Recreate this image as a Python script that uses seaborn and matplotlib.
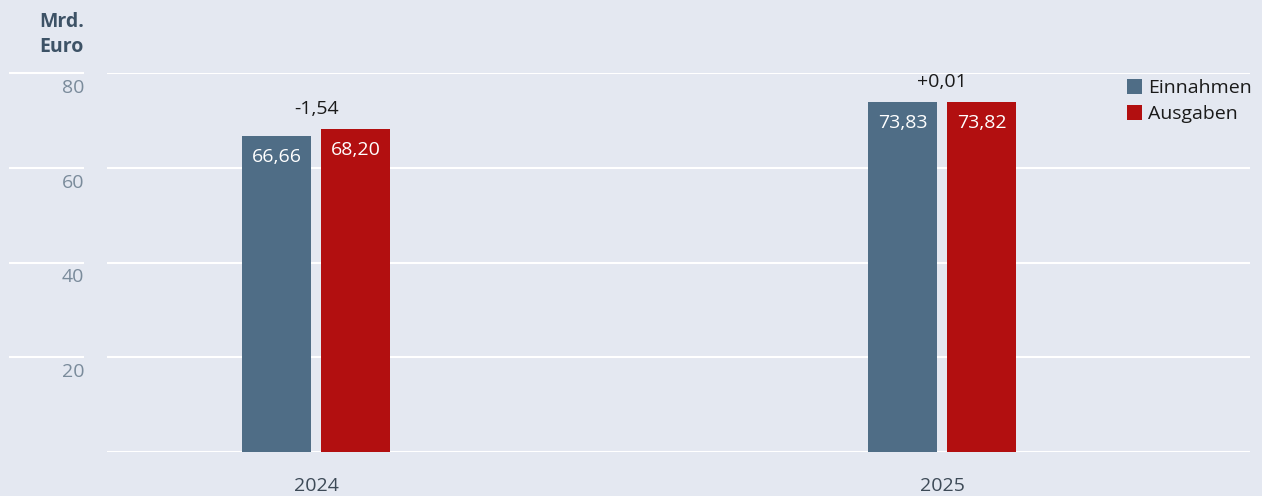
import seaborn as sns
import matplotlib.pyplot as plt
import matplotlib.transforms as mtransforms
import pandas as pd

jahre = ['2024', '2025']
einnahmen = [66.66, 73.83]
ausgaben = [68.20, 73.82]
saldo_text = ['-1,54', '+0,01']
y_ticks = [20, 40, 60, 80]

bg = '#e4e8f1'
farben = {'Einnahmen': '#4f6d86', 'Ausgaben': '#b20f10'}

df = pd.DataFrame({
    'Jahr': jahre * 2,
    'Wert': einnahmen + ausgaben,
    'Art': ['Einnahmen'] * len(jahre) + ['Ausgaben'] * len(jahre),
})

sns.set_style('white')
plt.rcParams['font.family'] = ['Open Sans', 'DejaVu Sans']

W, H = 1262, 496
fig = plt.figure(figsize=(W / 100, H / 100), dpi=100, facecolor=bg)
ax = fig.add_axes([107 / W, 44 / H, 1143 / W, (452 - 73) / H])
ax.set_facecolor(bg)

sns.barplot(data=df, x='Jahr', y='Wert', hue='Art', palette=farben,
            width=0.2524, gap=0.127, saturation=1, linewidth=0,
            ax=ax, legend=True)

ax.set_xlim(-0.334, 1.492)
ax.set_ylim(0, 80)

# Werte in die Balken schreiben
for cont in ax.containers:
    for bar in cont:
        h = bar.get_height()
        ax.annotate(f'{h:.2f}'.replace('.', ','),
                    (bar.get_x() + bar.get_width() / 2, h),
                    xytext=(0, -21), textcoords='offset pixels',
                    ha='center', va='center', color='white', fontsize=14)

# Saldo über den Balken
for i, txt in enumerate(saldo_text):
    top = max(einnahmen[i], ausgaben[i])
    ax.annotate(txt, (i, top), xytext=(0, 20), textcoords='offset pixels',
                ha='center', va='center', color='#1a1a1a', fontsize=14,
                annotation_clip=False)

# Gitter
ax.set_yticks([0] + y_ticks)
ax.yaxis.grid(True, color='white', linewidth=1.5)
ax.set_axisbelow(True)
ax.tick_params(axis='y', length=0, pad=16.5, labelsize=14, labelcolor='#7a8b9b')
ax.tick_params(axis='x', length=0, pad=18, labelsize=14, labelcolor='#3d4a57')
ax.set_yticklabels([''] + [str(t) for t in y_ticks])
off = mtransforms.ScaledTranslation(0, -13 / 100, fig.dpi_scale_trans)
for lab in ax.get_yticklabels():
    lab.set_transform(lab.get_transform() + off)

# kurze Linien links neben den Achsenbeschriftungen
trans = mtransforms.blended_transform_factory(fig.transFigure, ax.transData)
ax.hlines(y_ticks, 9 / W, 84 / W, transform=trans, color='white',
          linewidth=1.5, clip_on=False)

sns.despine(ax=ax, left=True, bottom=True, top=True, right=True)
ax.set_xlabel('')
ax.set_ylabel('')

fig.text(84 / W, 1 - 12 / H, 'Mrd.\nEuro', ha='right', va='top',
         fontsize=14, fontweight='bold', color='#3d5266', linespacing=1.3)

leg = ax.legend(loc='upper left', bbox_to_anchor=(1119 / W, 1 - 71 / H),
                bbox_transform=fig.transFigure, frameon=False, fontsize=14,
                handlelength=0.8, handleheight=0.8, handletextpad=0.3,
                labelspacing=0.42, borderaxespad=0)
for t in leg.get_texts():
    t.set_color('#1a1a1a')

fig.savefig('out.png', dpi=100, facecolor=bg)
